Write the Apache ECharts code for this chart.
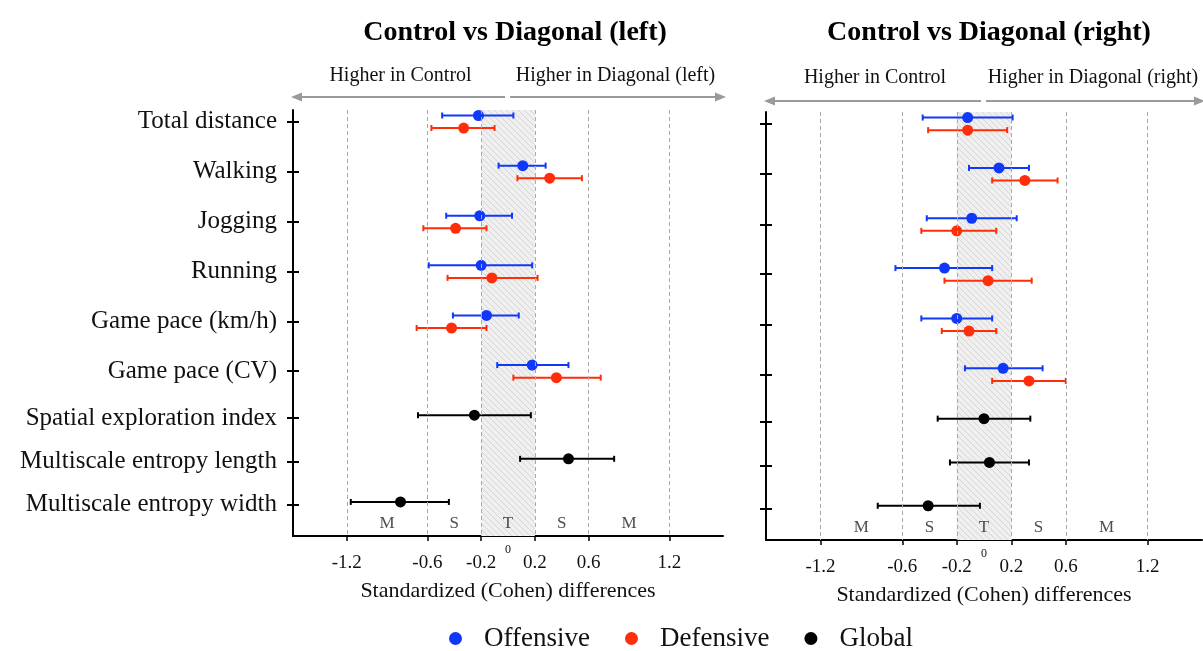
<!DOCTYPE html>
<html>
<head>
<meta charset="utf-8">
<script src="https://cdn.jsdelivr.net/npm/echarts@6/dist/echarts.min.js"></script>
<style>
  html, body { margin: 0; padding: 0; background: #fff; }
  #main { width: 1203px; height: 651px; }
</style>
</head>
<body>
<div id="main"></div>
<script>
const categories = ['Total distance', 'Walking', 'Jogging', 'Running', 'Game pace (km/h)',
  'Game pace (CV)', 'Spatial exploration index', 'Multiscale entropy length', 'Multiscale entropy width'];
// row positions on the (inverted) y axis
const rowPos = [0.23, 1.23, 2.23, 3.22, 4.22, 5.21, 6.15, 7.02, 7.88];
const xTicks = [-1.2, -0.6, -0.2, 0.2, 0.6, 1.2];
const zoneValues = [-0.9, -0.4, 0, 0.4, 0.9];
const zoneLabels = ['M', 'S', 'T', 'S', 'M'];

// left panel: first 6 rows for offensive/defensive, last 3 rows global
const leftOffMean = [-0.22, 0.11, -0.21, -0.20, -0.16, 0.18];
const leftOffLow = [-0.49, -0.07, -0.46, -0.59, -0.41, -0.08];
const leftOffHigh = [0.04, 0.28, 0.03, 0.18, 0.08, 0.45];
const leftDefMean = [-0.33, 0.31, -0.39, -0.12, -0.42, 0.36];
const leftDefLow = [-0.57, 0.07, -0.63, -0.45, -0.68, 0.04];
const leftDefHigh = [-0.10, 0.55, -0.16, 0.22, -0.16, 0.69];
const leftGloMean = [-0.25, 0.45, -0.80];
const leftGloLow = [-0.67, 0.09, -1.17];
const leftGloHigh = [0.17, 0.79, -0.44];

// right panel
const rightOffMean = [-0.12, 0.11, -0.09, -0.29, -0.20, 0.14];
const rightOffLow = [-0.45, -0.11, -0.42, -0.65, -0.46, -0.14];
const rightOffHigh = [0.21, 0.33, 0.24, 0.06, 0.06, 0.43];
const rightDefMean = [-0.12, 0.30, -0.20, 0.03, -0.11, 0.33];
const rightDefLow = [-0.41, 0.06, -0.46, -0.29, -0.31, 0.06];
const rightDefHigh = [0.17, 0.54, 0.09, 0.35, 0.09, 0.60];
const rightGloMean = [0.00, 0.04, -0.41];
const rightGloLow = [-0.34, -0.25, -0.78];
const rightGloHigh = [0.34, 0.33, -0.03];

const BLUE = '#1038f8';
const RED = '#ff2d0a';
const BLACK = '#000';
const FONT = '"Liberation Serif", "Times New Roman", serif';

// hatched fill for the trivial zone
const hatch = document.createElement('canvas');
hatch.width = 6; hatch.height = 6;
(function () {
  const c = hatch.getContext('2d');
  c.fillStyle = '#efefef';
  c.fillRect(0, 0, 6, 6);
  c.strokeStyle = '#d6d6d6';
  c.lineWidth = 1;
  c.beginPath();
  c.moveTo(0, 0); c.lineTo(6, 6);
  c.moveTo(-3, 3); c.lineTo(3, 9);
  c.moveTo(3, -3); c.lineTo(9, 3);
  c.stroke();
})();

function renderBar(params, api) {
  const lo = api.coord([api.value(0), api.value(2)]);
  const hi = api.coord([api.value(1), api.value(2)]);
  const color = api.visual('color');
  const st = { stroke: color, lineWidth: 2 };
  return {
    type: 'group',
    children: [
      { type: 'line', shape: { x1: lo[0], y1: lo[1], x2: hi[0], y2: hi[1] }, style: st },
      { type: 'line', shape: { x1: lo[0], y1: lo[1] - 3, x2: lo[0], y2: lo[1] + 3 }, style: st },
      { type: 'line', shape: { x1: hi[0], y1: hi[1] - 3, x2: hi[0], y2: hi[1] + 3 }, style: st }
    ]
  };
}

function groupSeries(name, color, axis, rows, offset, mean, low, high) {
  const ci = mean.map((m, i) => [low[i], high[i], rowPos[rows[i]] + offset]);
  const pts = mean.map((m, i) => [m, rowPos[rows[i]] + offset]);
  return [
    {
      name: name + ' CI', type: 'custom', xAxisIndex: axis, yAxisIndex: axis * 2,
      itemStyle: { color: color }, renderItem: renderBar, data: ci,
      encode: { x: [0, 1], y: 2 }, silent: true, z: 3
    },
    {
      name: name, type: 'scatter', xAxisIndex: axis, yAxisIndex: axis * 2,
      symbolSize: 11, itemStyle: { color: color, opacity: 1 }, data: pts, z: 4
    }
  ];
}

function panelSeries(axis, off, def, glo) {
  const pairRows = [0, 1, 2, 3, 4, 5];
  const gloRows = [6, 7, 8];
  return [
    {
      type: 'line', xAxisIndex: axis, yAxisIndex: axis * 2, data: [], z: 1, silent: true,
      markArea: {
        silent: true,
        itemStyle: { color: { image: hatch, repeat: 'repeat' } },
        data: [[{ xAxis: -0.2 }, { xAxis: 0.2 }]]
      },
      markLine: {
        silent: true, symbol: 'none', label: { show: false },
        lineStyle: { color: '#aaa', type: [4, 3], width: 1 },
        data: xTicks.map(v => ({ xAxis: v }))
      }
    },
    {
      type: 'scatter', xAxisIndex: axis, yAxisIndex: axis * 2, symbolSize: 0, silent: true, z: 2,
      data: zoneValues.map((v, i) => ({ value: [v, 8.26], name: zoneLabels[i] })),
      label: { show: true, position: 'inside', formatter: '{b}', color: '#222', fontSize: 17, fontFamily: FONT }
    },
    ...groupSeries('Offensive', BLUE, axis, pairRows, -0.12, off[0], off[1], off[2]),
    ...groupSeries('Defensive', RED, axis, pairRows, 0.13, def[0], def[1], def[2]),
    ...groupSeries('Global', BLACK, axis, gloRows, -0.06, glo[0], glo[1], glo[2])
  ];
}

function xAxisDef(grid) {
  return {
    type: 'value', gridIndex: grid, min: -1.6, max: 1.6, position: 'bottom',
    name: 'Standardized (Cohen) differences', nameLocation: 'middle', nameGap: 44,
    nameTextStyle: { fontFamily: FONT, fontSize: 22, color: '#111' },
    axisLine: { show: true, onZero: false, lineStyle: { color: '#000', width: 2 } },
    axisTick: { show: true, customValues: xTicks, length: 5, lineStyle: { color: '#000', width: 1.5 } },
    axisLabel: { customValues: xTicks, margin: 18, fontFamily: FONT, fontSize: 19, color: '#111',
      formatter: v => String(v) },
    splitLine: { show: false }
  };
}

function yAxisDefs(grid, withLabels) {
  return [
    {
      type: 'value', gridIndex: grid, min: 0, max: 8.5, inverse: true, position: 'left',
      axisLine: { show: true, onZero: false, lineStyle: { color: '#000', width: 2 } },
      axisTick: { show: true, customValues: rowPos, length: 6, lineStyle: { color: '#000', width: 2 } },
      axisLabel: {
        show: withLabels, customValues: rowPos, margin: 16, fontFamily: FONT, fontSize: 25, color: '#111',
        formatter: v => categories[rowPos.indexOf(v)] || ''
      },
      splitLine: { show: false }
    },
    {
      type: 'value', gridIndex: grid, min: 0, max: 8.5, inverse: true, position: 'left',
      axisLine: { show: false, onZero: false },
      axisTick: { show: true, inside: true, customValues: rowPos, length: 6, lineStyle: { color: '#000', width: 2 } },
      axisLabel: { show: false },
      splitLine: { show: false }
    }
  ];
}

const chart = echarts.init(document.getElementById('main'));
chart.setOption({
  animation: false,
  backgroundColor: '#fff',
  title: [
    { text: 'Control vs Diagonal (left)', left: 510, top: 14, textAlign: 'center',
      textStyle: { fontFamily: FONT, fontSize: 28, fontWeight: 'bold', color: '#000' } },
    { text: 'Control vs Diagonal (right)', left: 984, top: 14, textAlign: 'center',
      textStyle: { fontFamily: FONT, fontSize: 28, fontWeight: 'bold', color: '#000' } }
  ],
  legend: {
    data: ['Offensive', 'Defensive', 'Global'],
    left: 444, top: 620, icon: 'circle', itemWidth: 13, itemHeight: 13, itemGap: 35,
    textStyle: { fontFamily: FONT, fontSize: 27, color: '#111', padding: [0, 0, 0, 17] },
    selectedMode: false
  },
  grid: [
    { left: 293, right: 480, top: 110, bottom: 115 },
    { left: 766, right: 1, top: 112, bottom: 111 }
  ],
  xAxis: [xAxisDef(0), xAxisDef(1)],
  yAxis: [...yAxisDefs(0, true), ...yAxisDefs(1, false)],
  series: [
    ...panelSeries(0,
      [leftOffMean, leftOffLow, leftOffHigh],
      [leftDefMean, leftDefLow, leftDefHigh],
      [leftGloMean, leftGloLow, leftGloHigh]),
    ...panelSeries(1,
      [rightOffMean, rightOffLow, rightOffHigh],
      [rightDefMean, rightDefLow, rightDefHigh],
      [rightGloMean, rightGloLow, rightGloHigh])
  ]
});

// annotations: direction arrows, their labels and the small "0"
const panels = [
  { axis: 0, arrowY: 97, textY: 76, rightText: 'Higher in Diagonal (left)', zeroY: 550 },
  { axis: 1, arrowY: 101, textY: 78, rightText: 'Higher in Diagonal (right)', zeroY: 554 }
];
const graphics = [];
panels.forEach(p => {
  const px = v => chart.convertToPixel({ xAxisIndex: p.axis }, v);
  const x0 = px(0), xl = px(-1.6), xr = px(1.6);
  const gray = '#9a9a9a';
  graphics.push(
    { type: 'line', shape: { x1: x0 - 3, y1: p.arrowY, x2: xl + 6, y2: p.arrowY }, style: { stroke: gray, lineWidth: 2 } },
    { type: 'polygon', shape: { points: [[xl - 2, p.arrowY], [xl + 9, p.arrowY - 4.5], [xl + 9, p.arrowY + 4.5]] }, style: { fill: gray } },
    { type: 'line', shape: { x1: x0 + 2, y1: p.arrowY, x2: xr - 6, y2: p.arrowY }, style: { stroke: gray, lineWidth: 2 } },
    { type: 'polygon', shape: { points: [[xr + 3, p.arrowY], [xr - 8, p.arrowY - 4.5], [xr - 8, p.arrowY + 4.5]] }, style: { fill: gray } },
    { type: 'text', x: px(-0.8), y: p.textY, style: { text: 'Higher in Control', font: '20px ' + FONT, fill: '#111', align: 'center', verticalAlign: 'middle' } },
    { type: 'text', x: px(0.8), y: p.textY, style: { text: p.rightText, font: '20px ' + FONT, fill: '#111', align: 'center', verticalAlign: 'middle' } },
    { type: 'text', x: x0, y: p.zeroY, style: { text: '0', font: '12px ' + FONT, fill: '#111', align: 'center', verticalAlign: 'middle' } }
  );
});
chart.setOption({ graphic: graphics });
</script>
</body>
</html>
